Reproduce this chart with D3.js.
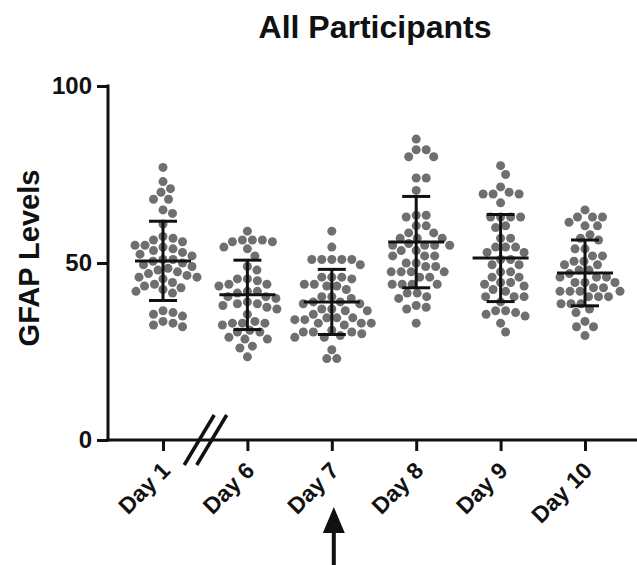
<!DOCTYPE html>
<html>
<head>
<meta charset="utf-8">
<script src="https://cdn.jsdelivr.net/npm/d3@7/dist/d3.min.js"></script>
<style>
  html, body { margin: 0; padding: 0; background: #fff; }
  svg { display: block; font-family: 'Liberation Sans', Arial, sans-serif; }
</style>
</head>
<body>
<svg id="chart"></svg>
<script>
const categories = ['Day 1', 'Day 6', 'Day 7', 'Day 8', 'Day 9', 'Day 10'];

const day1 = [77, 73, 71, 70, 68, 68, 65, 64, 61, 57.5, 57, 56.5, 56, 55, 55, 54.5, 54, 53.5, 53, 52.5,
  52, 51, 51, 50.5, 50, 49.5, 49, 48.5, 48, 47.5, 47, 46.5, 46, 46, 45.5, 44.5, 44, 43.5, 43, 42.5,
  42, 41.5, 36.5, 36, 35.5, 35, 33.5, 33, 32.5, 32];
const day6 = [59, 56.5, 56, 56.5, 56, 56.5, 54.5, 54, 52, 49, 48, 45.5, 45, 45.5, 44, 44, 43.5, 42, 42,
  41.5, 40.5, 40.5, 40, 39, 38.5, 38.5, 38, 37.5, 37, 35.5, 33.5, 33, 33, 32.5, 33, 31, 30.5, 30.5,
  29, 28.5, 28.5, 26.5, 26, 23.5];
const day7 = [59, 54.5, 51, 51, 51, 51, 51, 49.5, 46, 46, 46, 45.5, 44, 44, 43.5, 43.5, 42.5, 40.5, 40.5,
  40, 39, 39, 38.5, 38.5, 37, 37, 36.5, 36.5, 35.5, 34.5, 34.5, 34, 34, 34.5, 33, 33, 32.5, 33, 31,
  30.5, 30.5, 30, 30.5, 29.5, 29, 29, 25.5, 23, 23];
const day8 = [85, 82, 82, 80, 80, 74, 74, 70.5, 63.5, 63.5, 63, 60.5, 60.5, 58.5, 58.5, 57, 57, 57, 55,
  55, 55, 55.5, 55, 53.5, 53.5, 52, 52, 52, 50, 50, 49, 49, 47.5, 47.5, 47.5, 47.5, 46, 46, 44, 44,
  44, 44, 41.5, 41.5, 40.5, 40, 38, 37, 37.5, 33];
const day9 = [77.5, 75, 71.5, 70, 69.5, 69.5, 69.5, 67, 63, 63, 63, 63, 60.5, 60, 57, 57, 54.5, 54.5,
  54.5, 53, 53, 51, 49.5, 49.5, 51, 47.5, 47.5, 46, 46, 44.5, 44.5, 44, 43.5, 42.5, 42, 40.5, 40.5,
  40.5, 39, 36.5, 36.5, 36, 35.5, 35, 33, 30.5];
const day10 = [65, 63, 63, 63, 61.5, 60.5, 60.5, 58, 57, 56.5, 54, 54, 52, 52, 50.5, 50.5, 49.5, 49.5,
  48, 48, 47, 46, 46, 46, 44.5, 44.5, 44.5, 43, 43, 42, 42, 42, 42, 40.5, 40.5, 40.5, 38.5, 38.5,
  38.5, 37, 36, 33.5, 32, 32, 29.5];

const means = [50.6, 41.0, 39.0, 55.9, 51.4, 47.2];
const sds = [11.2, 9.8, 9.2, 12.9, 12.3, 9.3];
const yTicks = [0, 50, 100];

const groups = [day1, day6, day7, day8, day9, day10];

const width = 637;
const height = 565;
const dotR = 4.5;
const dotGap = 10;
const ink = '#111';

const svg = d3.select('#chart')
  .attr('width', width)
  .attr('height', height);

const x = d3.scalePoint()
  .domain(categories)
  .range([163, 585]);

const y = d3.scaleLinear()
  .domain([0, 100])
  .range([440, 86]);

// title
svg.append('text')
  .attr('x', 375)
  .attr('y', 38)
  .attr('text-anchor', 'middle')
  .attr('font-size', 32)
  .attr('font-weight', 'bold')
  .attr('fill', ink)
  .text('All Participants');

// y label
svg.append('text')
  .attr('transform', 'translate(39,258) rotate(-90)')
  .attr('text-anchor', 'middle')
  .attr('font-size', 29)
  .attr('font-weight', 'bold')
  .attr('fill', ink)
  .text('GFAP Levels');

// simple beeswarm: place each dot as close to center as possible
function swarm(vals) {
  const pts = vals.map((v) => ({ v, py: y(v) })).sort((a, b) => a.py - b.py);
  const placed = [];
  pts.forEach((p) => {
    for (let k = 0; k < 400; k++) {
      const off = (k % 2 ? 1 : -1) * Math.ceil(k / 2) * 0.5;
      const ok = placed.every((q) => {
        const dx = q.dx - off;
        const dy = q.py - p.py;
        return dx * dx + dy * dy >= dotGap * dotGap;
      });
      if (ok) {
        p.dx = off;
        break;
      }
    }
    placed.push(p);
  });
  return placed;
}

// dots
groups.forEach((vals, i) => {
  svg.append('g')
    .selectAll('circle')
    .data(swarm(vals))
    .enter().append('circle')
    .attr('cx', (d) => x(categories[i]) + d.dx)
    .attr('cy', (d) => d.py)
    .attr('r', dotR)
    .attr('fill', '#6f6f6f');
});

// mean +- SD
const bars = svg.selectAll('.err')
  .data(categories.map((c, i) => ({ c, m: means[i], s: sds[i] })))
  .enter().append('g')
  .attr('class', 'err')
  .attr('stroke', ink)
  .attr('stroke-width', 3);

bars.append('line')
  .attr('x1', (d) => x(d.c)).attr('x2', (d) => x(d.c))
  .attr('y1', (d) => y(d.m + d.s)).attr('y2', (d) => y(d.m - d.s));
bars.append('line')
  .attr('x1', (d) => x(d.c) - 28).attr('x2', (d) => x(d.c) + 28)
  .attr('y1', (d) => y(d.m)).attr('y2', (d) => y(d.m));
bars.append('line')
  .attr('x1', (d) => x(d.c) - 14).attr('x2', (d) => x(d.c) + 14)
  .attr('y1', (d) => y(d.m + d.s)).attr('y2', (d) => y(d.m + d.s));
bars.append('line')
  .attr('x1', (d) => x(d.c) - 14).attr('x2', (d) => x(d.c) + 14)
  .attr('y1', (d) => y(d.m - d.s)).attr('y2', (d) => y(d.m - d.s));

// y axis
const yAxis = svg.append('g')
  .attr('transform', 'translate(108,0)')
  .call(d3.axisLeft(y).tickValues(yTicks).tickSize(11).tickPadding(5));
yAxis.select('.domain').remove();
yAxis.append('line')
  .attr('x1', 0).attr('x2', 0)
  .attr('y1', y(100) - 1.5).attr('y2', y(0) + 1.5)
  .attr('stroke', ink).attr('stroke-width', 3);
yAxis.selectAll('.tick line').attr('stroke', ink).attr('stroke-width', 3);
yAxis.selectAll('.tick text')
  .attr('font-size', 24)
  .attr('font-weight', 'bold')
  .attr('font-family', "'Liberation Sans', Arial, sans-serif")
  .attr('fill', ink);

// x axis
const xAxis = svg.append('g')
  .attr('transform', `translate(0,${y(0)})`)
  .call(d3.axisBottom(x).tickSize(11));
xAxis.select('.domain').remove();
xAxis.append('line')
  .attr('x1', 106.5).attr('x2', width)
  .attr('y1', 0).attr('y2', 0)
  .attr('stroke', ink).attr('stroke-width', 3);
xAxis.selectAll('.tick line').attr('stroke', ink).attr('stroke-width', 3);
xAxis.selectAll('.tick text')
  .attr('x', 0).attr('y', 0).attr('dy', 0)
  .attr('transform', 'translate(8,32) rotate(-45)')
  .style('text-anchor', 'end')
  .attr('font-size', 23)
  .attr('font-weight', 'bold')
  .attr('font-family', "'Liberation Sans', Arial, sans-serif")
  .attr('fill', ink);

// axis break between Day 1 and Day 6
const breakX = (x('Day 1') + x('Day 6')) / 2;
[-6, 6.5].forEach((o) => {
  xAxis.append('line')
    .attr('x1', breakX + o - 15).attr('y1', 25)
    .attr('x2', breakX + o + 15).attr('y2', -25)
    .attr('stroke', ink).attr('stroke-width', 3.5);
});

// arrow under Day 7
const ax = x('Day 7') + 2;
svg.append('line')
  .attr('x1', ax).attr('x2', ax)
  .attr('y1', 530).attr('y2', height)
  .attr('stroke', ink).attr('stroke-width', 4);
svg.append('path')
  .attr('d', `M${ax},507 L${ax - 11},533 L${ax + 11},533 Z`)
  .attr('fill', ink);
</script>
</body>
</html>
